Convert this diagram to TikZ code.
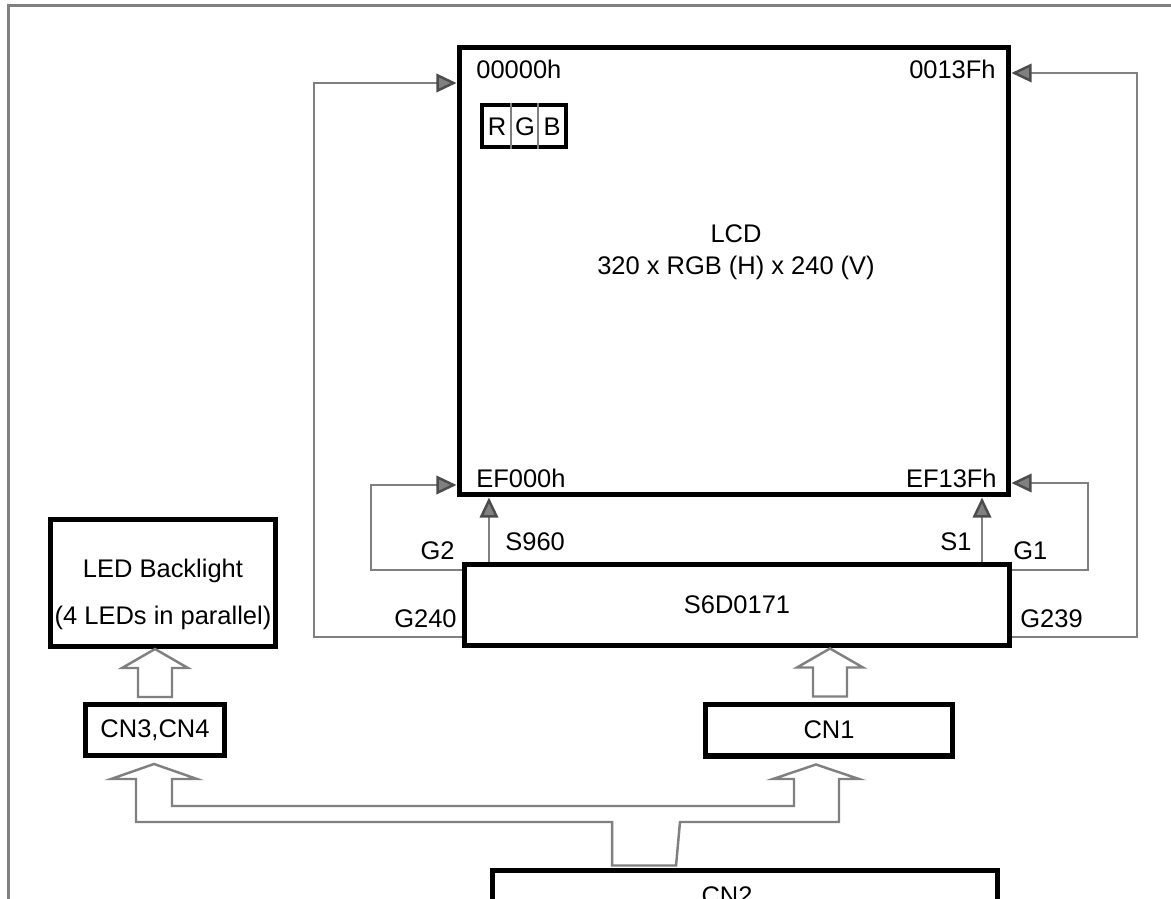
\documentclass[tikz,border=0pt]{standalone}
\usepackage{fontspec}
\setmainfont{Liberation Sans}
\usepackage{tikz}
\usetikzlibrary{arrows.meta, calc}

\begin{document}
\begin{tikzpicture}[x=0.02cm, y=-0.02cm, font=\fontsize{14.5}{18}\selectfont,
      >={Triangle[length=11.5pt, width=10.5pt, color=black!70, fill=gray]},
      box/.style={draw, line width=2.85pt, align=center, inner sep=0pt},
      cell/.style={draw, line width=1.9pt, inner sep=0pt},
      sig/.style={draw=gray, line width=1.4pt},
      hollow/.style={draw=gray, line width=1.4pt, line join=miter},
      frame/.style={draw=gray, line width=1.7pt},
      lbl/.style={inner sep=0pt}]
    \useasboundingbox (0,0) rectangle (1171,899);
    \clip (0,0) rectangle (1171,899);
    \draw[frame] (1171,5.5) -- (8.5,5.5) -- (8.5,899);

    % panel and driver
    \node[box, minimum width=11cm, minimum height=8.96cm] (lcd) at (734,271) {};
    \node[lbl, align=center] (title) at (736,252) {LCD\\320 x RGB (H) x 240 (V)};
    \node[cell, minimum width=1.68cm, minimum height=0.84cm] (rgb) at (524,126) {};
    \draw[sig] (511,0 |- rgb.north) -- (511,0 |- rgb.south);
    \draw[sig] (538,0 |- rgb.north) -- (538,0 |- rgb.south);
    \node[lbl] (r) at (497,127) {R};
    \node[lbl] (gg) at (525,127) {G};
    \node[lbl] (b) at (552,127) {B};
    \node[lbl, anchor=base west] (a0) at (476,78) {00000h};
    \node[lbl, anchor=base east] (a1) at (996,78) {0013Fh};
    \node[lbl, anchor=base west] (a2) at (476,487) {EF000h};
    \node[lbl, anchor=base east] (a3) at (997,487) {EF13Fh};

    \node[box, minimum width=10.92cm, minimum height=1.64cm] (drv) at (737,605) {S6D0171};

    % source and gate lines
    \draw[sig, ->] (489,0 |- drv.north) -- (489,0 |- lcd.south);
    \draw[sig, ->] (982,0 |- drv.north) -- (982,0 |- lcd.south);
    \draw[sig, ->] (drv.west |- 0,570) -| (371,485) -- (lcd.west |- 0,485);
    \draw[sig, ->] (drv.west |- 0,637) -| (314,83) -- (lcd.west |- 0,83);
    \draw[sig, ->] (drv.east |- 0,570) -| (1088,483) -- (lcd.east |- 0,483);
    \draw[sig, ->] (drv.east |- 0,637) -| (1137,73) -- (lcd.east |- 0,73);
    \node[lbl, anchor=base west] (s960) at (505,550) {S960};
    \node[lbl, anchor=base east] (s1) at (972,550) {S1};
    \node[lbl, anchor=base east] (g2) at (455,559) {G2};
    \node[lbl, anchor=base east] (g240) at (457,627) {G240};
    \node[lbl, anchor=base west] (g1) at (1013,559) {G1};
    \node[lbl, anchor=base west] (g239) at (1020,627) {G239};

    % backlight and connectors
    \node[box, minimum width=4.52cm, minimum height=2.54cm] (led) at (163,583) {};
    \node[lbl] (ledt) at (163,571) {LED Backlight};
    \node[lbl] (ledp) at (163,618) {(4 LEDs in parallel)};
    \node[box, minimum width=2.8cm, minimum height=1.02cm] (cn34) at (155,730) {CN3,CN4};
    \node[box, minimum width=4.96cm, minimum height=1.04cm] (cn1) at (829,730) {CN1};
    \node[box, minimum width=10.1cm, minimum height=1.2cm] (cn2) at (745,900) {};
    \node[lbl] (cn2t) at (727,896) {CN2};

    \draw[hollow] ($(cn34.north)+(-17,-5)$) -- ++(0,-29) -- ++(-16,0) -- ++(33,-19)
      -- ++(33,19) -- ++(-16,0) -- ++(0,29) -- cycle;
    \draw[hollow] ($(cn1.north)+(-16,-5)$) -- ++(0,-29) -- ++(-16,0) -- ++(33,-19)
      -- ++(33,19) -- ++(-16,0) -- ++(0,29) -- cycle;
    \draw[hollow] ($(cn2.north west)+(122,-2)$) |- (136,822) -- (136,779) -- (111,779)
      -- ($(cn34.south)+(-1,6)$) -- (197,779) -- (172,779) |- (794,806) -- (794,779)
      -- (773,779) -- ($(cn1.south)+(-13,6)$) -- (859,779) -- (839,779) |- (680,822)
      -- ($(cn2.north west)+(186,-2)$) -- cycle;
  \end{tikzpicture}
\end{document}
